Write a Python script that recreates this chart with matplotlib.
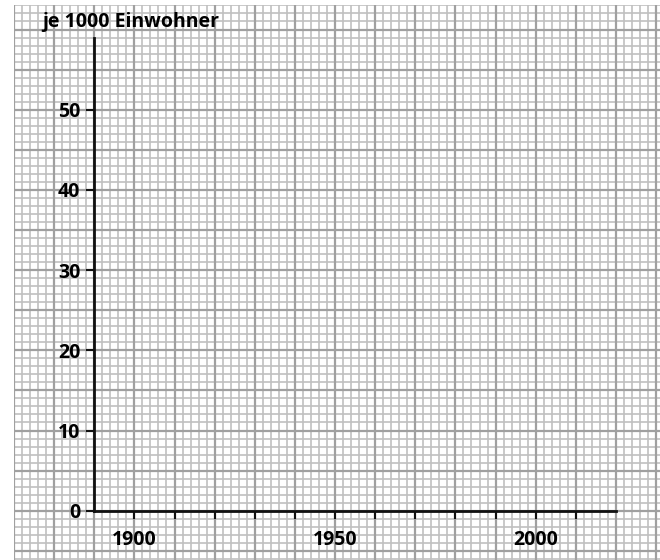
import numpy as np
import matplotlib
matplotlib.use("Agg")
import matplotlib.pyplot as plt

# Axis content
y_ticks = [0, 10, 20, 30, 40, 50]
y_labels = ["0", "10", "20", "30", "40", "50"]
x_ticks = [1900, 1910, 1920, 1930, 1940, 1950, 1960, 1970, 1980, 1990, 2000, 2010]
x_labels = ["1900", "", "", "", "", "1950", "", "", "", "", "2000", ""]
y_title = "je 1000 Einwohner"

x_axis_start, x_axis_end = 1890, 2020
y_axis_start, y_axis_end = 0, 59

fig = plt.figure(figsize=(6.6, 5.6), dpi=100)
ax = fig.add_axes([14 / 660, 0, 1 - 14 / 660, 555 / 560])
xmin, xmax = 1870, 1870 + 646 / 4.013
ymin, ymax = -(560 - 510.7) / 8.02, (510.7 - 5) / 8.02
ax.set_xlim(xmin, xmax)
ax.set_ylim(ymin, ymax)

# graph paper
minor_c, major_c = "#c0c0c0", "#a0a0a0"
for xv in np.arange(1870, 2032, 2):
    major = (xv % 10 == 0)
    ax.axvline(xv, color=major_c if major else minor_c,
               lw=1.6 if major else 1.2, zorder=1 if major else 0)
for yv in np.arange(-6, 64, 1):
    major = (yv % 5 == 0)
    ax.axhline(yv, color=major_c if major else minor_c,
               lw=1.6 if major else 1.2, zorder=1 if major else 0)

for s in ["top", "right"]:
    ax.spines[s].set_visible(False)
ax.spines["left"].set_position(("data", x_axis_start))
ax.spines["bottom"].set_position(("data", 0))
ax.spines["left"].set_bounds(y_axis_start, y_axis_end)
ax.spines["bottom"].set_bounds(x_axis_start, x_axis_end)
for s in ["left", "bottom"]:
    ax.spines[s].set_linewidth(2.0)
    ax.spines[s].set_color("#111111")
    ax.spines[s].set_zorder(5)

font = dict(family=["Open Sans", "DejaVu Sans"], weight="bold", size=14)
ax.set_yticks(y_ticks)
ax.set_yticklabels(y_labels, **font)
ax.set_xticks(x_ticks)
ax.set_xticklabels(x_labels, **font)
ax.tick_params(axis="y", direction="out", length=6, width=1.5, color="#111111", pad=4)
ax.tick_params(axis="x", direction="out", length=6, width=1.5, color="#111111", pad=8)

ax.text(1899, 60.9, y_title, ha="center", va="center", **font)

fig.savefig("out.png", dpi=100)
